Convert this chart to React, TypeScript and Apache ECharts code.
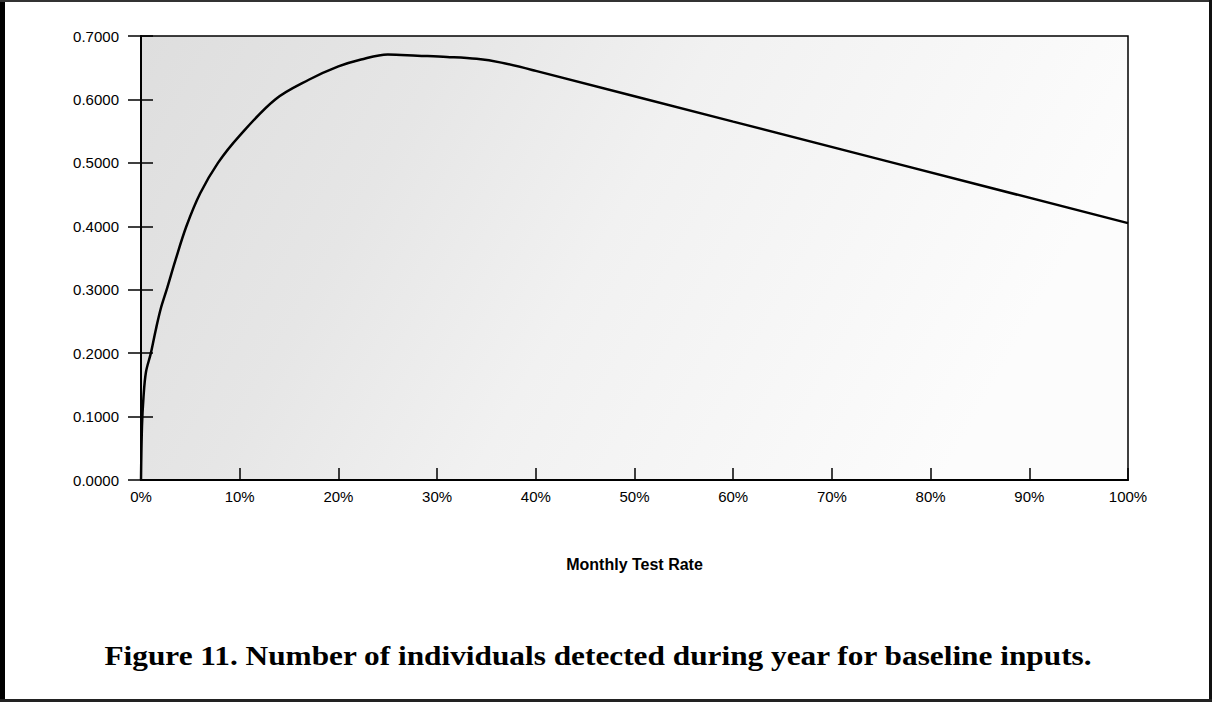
import React, { useEffect, useRef } from "react";
import * as echarts from "echarts";

// Monthly test rate (%) and number of individuals detected during year
const testRate = [0, 0.1, 0.25, 0.5, 1.0, 1.5, 2.0, 2.6, 3.5, 4.6, 6.0, 7.8, 10, 13.6, 17, 20, 22.3, 25, 28, 31, 34, 36.5, 40, 60, 100];
const detected = [0, 0.085, 0.13, 0.17, 0.2, 0.237, 0.27, 0.3, 0.347, 0.4, 0.452, 0.5, 0.543, 0.6, 0.631, 0.652, 0.663, 0.671, 0.669, 0.667, 0.664, 0.658, 0.645, 0.565, 0.405];

const yTicks = [0, 0.1, 0.2, 0.3, 0.4, 0.5, 0.6, 0.7];
const xTicks = [0, 10, 20, 30, 40, 50, 60, 70, 80, 90, 100];

const xAxisName = "Monthly Test Rate";
const caption = "Figure 11. Number of individuals detected during year for baseline inputs.";

export default function App() {
  const ref = useRef<HTMLDivElement>(null);
  useEffect(() => {
    document.body.style.margin = "0";
    const chart = echarts.init(ref.current!, null, { renderer: "svg" });
    const sans = "'Liberation Sans', Arial, sans-serif";
    const grid = { left: 141, right: 84, top: 36, bottom: 222 };
    chart.setOption({
      animation: false,
      backgroundColor: "#ffffff",
      grid: {
        ...grid,
        show: true,
        borderColor: "#000",
        borderWidth: 1.5,
        backgroundColor: new echarts.graphic.LinearGradient(0, 0, 1, 0.25, [
          { offset: 0, color: "#dedede" },
          { offset: 0.3, color: "#e6e6e6" },
          { offset: 0.55, color: "#f1f1f1" },
          { offset: 1, color: "#fcfcfc" },
        ]),
      },
      xAxis: [
        {
          type: "value",
          min: xTicks[0],
          max: xTicks[xTicks.length - 1],
          interval: 10,
          name: xAxisName,
          nameLocation: "middle",
          nameGap: 76,
          nameTextStyle: { fontFamily: sans, fontWeight: "bold", fontSize: 16, color: "#000" },
          axisLine: { show: true, lineStyle: { color: "#000", width: 2 } },
          axisTick: { show: true, inside: true, length: 12, lineStyle: { color: "#000", width: 1.5 } },
          axisLabel: {
            margin: 9,
            fontFamily: sans,
            fontSize: 15,
            color: "#000",
            formatter: (v: number) => `${v}%`,
          },
          splitLine: { show: false },
        },
      ],
      yAxis: [
        {
          type: "value",
          min: yTicks[0],
          max: yTicks[yTicks.length - 1],
          interval: 0.1,
          axisLine: { show: true, lineStyle: { color: "#000", width: 2 } },
          axisTick: { show: true, inside: false, length: 13, lineStyle: { color: "#000", width: 1.5 } },
          axisLabel: {
            margin: 22,
            fontFamily: sans,
            fontSize: 15,
            color: "#000",
            formatter: (v: number) => v.toFixed(4),
          },
          splitLine: { show: false },
        },
        {
          type: "value",
          position: "left",
          min: yTicks[0],
          max: yTicks[yTicks.length - 1],
          interval: 0.1,
          axisLine: { show: false },
          axisTick: { show: true, inside: true, length: 12, lineStyle: { color: "#000", width: 1.5 } },
          axisLabel: { show: false },
          splitLine: { show: false },
        },
      ],
      series: [
        {
          type: "line",
          data: testRate.map((x, i) => [x, detected[i]]),
          showSymbol: false,
          smooth: 0.35,
          lineStyle: { color: "#000", width: 2.5 },
          z: 5,
        },
      ],
      graphic: [
        { type: "rect", shape: { x: 0, y: 0, width: 5, height: 702 }, style: { fill: "#000" } },
        { type: "rect", shape: { x: 0, y: 0, width: 1212, height: 2 }, style: { fill: "#333" } },
        { type: "rect", shape: { x: 1209, y: 0, width: 3, height: 702 }, style: { fill: "#111" } },
        { type: "rect", shape: { x: 0, y: 699, width: 1212, height: 3 }, style: { fill: "#222" } },
        {
          type: "text",
          x: 598,
          y: 656,
          scaleX: 1.16,
          style: {
            text: caption,
            fontFamily: "'Liberation Serif', 'Times New Roman', serif",
            fontWeight: "bold",
            fontSize: 27,
            fill: "#000",
            align: "center",
            verticalAlign: "middle",
          },
        },
      ],
    });
    return () => chart.dispose();
  }, []);
  return <div ref={ref} style={{ width: 1212, height: 702 }} />;
}
